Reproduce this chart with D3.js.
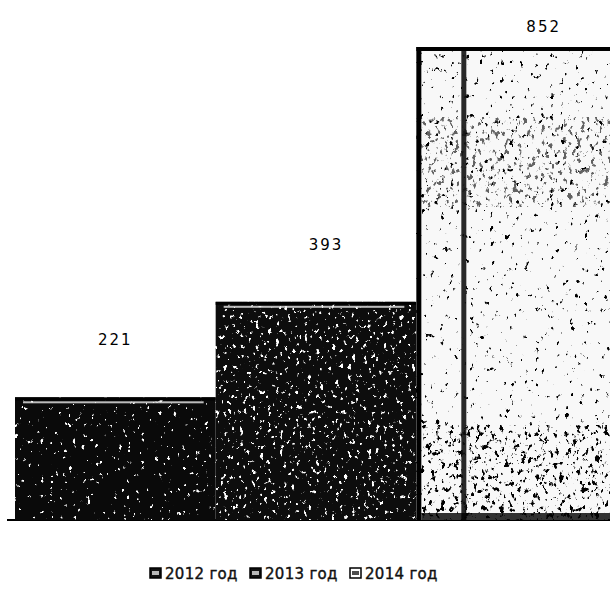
<!DOCTYPE html>
<html><head><meta charset="utf-8">
<script src="https://cdn.jsdelivr.net/npm/d3@7"></script>
<style>html,body{margin:0;padding:0;background:#fff}svg{display:block}</style>
</head><body>
<script>
const categories = ["2012 год", "2013 год", "2014 год"];
const values = [221, 393, 852];
const labelDx = [0, 10, 27];

const W = 610, H = 607;
const svg = d3.select("body").append("svg").attr("width", W).attr("height", H);
const defs = svg.append("defs");

function speckFilter(id, color, freq, seed, k, b) {
  const f = defs.append("filter").attr("id", id)
    .attr("x", 0).attr("y", 0).attr("width", 1).attr("height", 1);
  f.append("feTurbulence").attr("type", "fractalNoise").attr("baseFrequency", freq)
    .attr("numOctaves", 3).attr("seed", seed).attr("result", "n");
  const c = d3.color(color);
  const r = c.r / 255, g = c.g / 255, bl = c.b / 255;
  f.append("feColorMatrix").attr("in", "n").attr("type", "matrix")
    .attr("values", `0 0 0 0 ${r}  0 0 0 0 ${g}  0 0 0 0 ${bl}  ${k} 0 0 0 ${b}`);
}
speckFilter("wsp1", "#fff", "0.22 0.18", 4, 16, -11.2);
speckFilter("wsp2", "#fff", "0.25 0.2", 9, 14, -9.0);
speckFilter("bsp3", "#000", "0.2 0.15", 2, 14, -9.8);
speckFilter("bsp3b", "#000", "0.22 0.16", 7, 12, -7.2);

const x = d3.scaleBand().domain(categories).range([15, 617]).padding(0);
const y = d3.scaleLinear().domain([0, 852]).range([520, 47]);

const g = svg.append("g");
g.append("line").attr("x1", 7).attr("x2", W).attr("y1", y(0)).attr("y2", y(0))
  .attr("stroke", "#000").attr("stroke-width", 2);

const fills = ["#0a0a0a", "#0d0d0d", "#f8f8f8"];
const filters = ["wsp1", "wsp2", "bsp3"];

categories.forEach((c, i) => {
  const x0 = x(c), bw = x.bandwidth(), y0 = y(values[i]), h = y(0) - y0;
  g.append("rect").attr("x", x0).attr("y", y0).attr("width", bw).attr("height", h)
    .attr("fill", fills[i]);
  g.append("rect").attr("x", x0).attr("y", y0).attr("width", bw).attr("height", h)
    .attr("fill", "#888").attr("filter", `url(#${filters[i]})`);
  if (i < 2) {
    g.append("rect").attr("x", x0).attr("y", y0).attr("width", bw).attr("height", 3).attr("fill", "#000");
    g.append("rect").attr("x", x0 + 8).attr("y", y0 + 4).attr("width", bw - 20).attr("height", 2)
      .attr("fill", "#e8e8e8").attr("opacity", 0.8);
  } else {
    // denser specks in the lower part of the light bar
    g.append("rect").attr("x", x0).attr("y", y(0) - 95).attr("width", bw).attr("height", 95)
      .attr("fill", "#888").attr("filter", "url(#bsp3b)");
    g.append("rect").attr("x", x0).attr("y", y0 + 70).attr("width", bw).attr("height", 90)
      .attr("fill", "#888").attr("filter", "url(#bsp3b)").attr("opacity", 0.6);
    g.append("rect").attr("x", x0).attr("y", y0).attr("width", bw).attr("height", 4).attr("fill", "#000");
    g.append("rect").attr("x", x0).attr("y", y0).attr("width", 5).attr("height", h).attr("fill", "#000");
    g.append("rect").attr("x", x0 + 45).attr("y", y0 + 4).attr("width", 5).attr("height", h - 4)
      .attr("fill", "#111").attr("opacity", 0.9);
    g.append("rect").attr("x", x0 + 5).attr("y", y(0) - 7).attr("width", bw).attr("height", 7)
      .attr("fill", "#000").attr("opacity", 0.8);
  }
  g.append("text").attr("x", x0 + bw / 2 + labelDx[i]).attr("y", Math.max(y0 - 52, 32))
    .attr("text-anchor", "middle").attr("font-family", "DejaVu Sans")
    .attr("font-size", 15).attr("letter-spacing", 2).attr("fill", "#000")
    .text(values[i]);
});

const legX = [150, 250, 350];
const leg = svg.append("g").attr("font-family", "DejaVu Sans").attr("font-size", 15);
categories.forEach((c, i) => {
  const lg = leg.append("g").attr("transform", `translate(${legX[i]},579)`);
  lg.append("rect").attr("x", 0).attr("y", -11).attr("width", 11).attr("height", 10)
    .attr("fill", i < 2 ? "#111" : "#fff").attr("stroke", "#000").attr("stroke-width", 1.5);
  lg.append("rect").attr("x", 2).attr("y", -8).attr("width", 7).attr("height", 4)
    .attr("fill", i < 2 ? "#fff" : "#000").attr("opacity", 0.7);
  lg.append("text").attr("x", 15).attr("y", 0).attr("fill", "#111")
    .attr("stroke", "#111").attr("stroke-width", 0.4).attr("letter-spacing", 0.3).text(c);
});
</script>
</body></html>
